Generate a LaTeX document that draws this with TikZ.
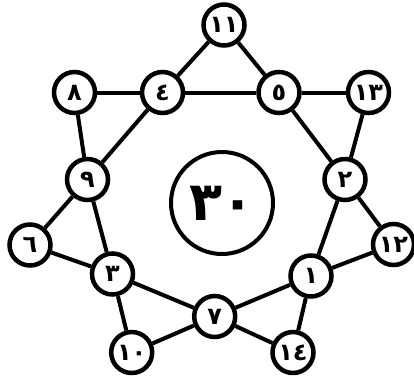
\documentclass[tikz,border=0pt]{standalone}
\usepackage{fontspec}
\newfontfamily\arabicfont[Script=Arabic]{DejaVu Sans}
\tikzset{
  num/.style={circle, draw, line width=4.5pt, minimum size=41pt, inner sep=0pt, fill=white, font=\arabicfont\bfseries\fontsize{24}{24}\selectfont},
  bignum/.style={circle, draw, line width=4pt, minimum size=102pt, inner sep=0pt, font=\arabicfont\bfseries\fontsize{54}{54}\selectfont},
  link/.style={line width=4pt}
}
\begin{document}
\begin{tikzpicture}[x=1pt,y=-1pt]
\useasboundingbox (0,0) rectangle (414,380);
\node[bignum] (c30) at (222,203) {٣٠};
\node[num] (n11) at (224,25) {١١};
\node[num] (n8) at (74.5,92.5) {٨};
\node[num] (n4) at (162.5,92.5) {٤};
\node[num] (n5) at (279,92.5) {٥};
\node[num] (n13) at (368.5,92.5) {١٣};
\node[num] (n9) at (87.5,179.5) {٩};
\node[num] (n2) at (345,179.5) {٢};
\node[num] (n6) at (30,245) {٦};
\node[num] (n12) at (393.5,244.5) {١٢};
\node[num] (n3) at (112.5,274) {٣};
\node[num] (n1) at (311,276) {١};
\node[num] (n7) at (214.7,316.5) {٧};
\node[num] (n10) at (131.7,352.5) {١٠};
\node[num] (n14) at (293,352.5) {١٤};
\draw[link] (n8) -- (n4);
\draw[link] (n4) -- (n5);
\draw[link] (n5) -- (n13);
\draw[link] (n4) -- (n11);
\draw[link] (n11) -- (n5);
\draw[link] (n5) -- (n2);
\draw[link] (n13) -- (n2);
\draw[link] (n2) -- (n12);
\draw[link] (n2) -- (n1);
\draw[link] (n12) -- (n1);
\draw[link] (n1) -- (n14);
\draw[link] (n1) -- (n7);
\draw[link] (n14) -- (n7);
\draw[link] (n7) -- (n10);
\draw[link] (n7) -- (n3);
\draw[link] (n10) -- (n3);
\draw[link] (n3) -- (n6);
\draw[link] (n3) -- (n9);
\draw[link] (n6) -- (n9);
\draw[link] (n9) -- (n8);
\draw[link] (n9) -- (n4);
\end{tikzpicture}
\end{document}
